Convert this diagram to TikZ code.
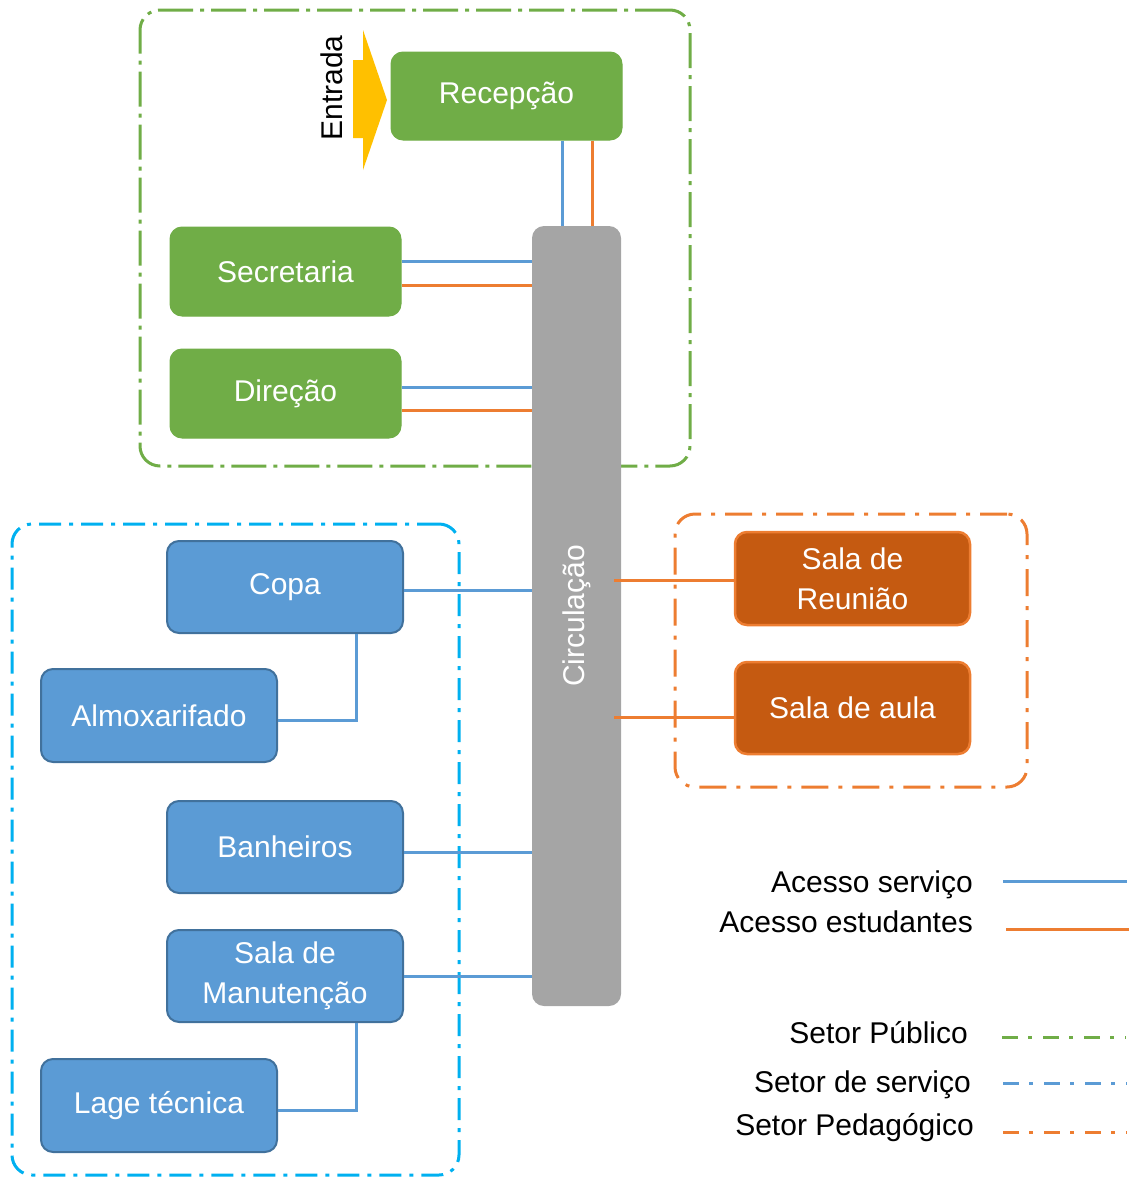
\documentclass[tikz,border=0pt]{standalone}
\usepackage{fontspec}
\setmainfont{Liberation Sans}
\usepackage{graphicx}

\definecolor{cGreen}{HTML}{70AD47}
\definecolor{cCyan}{HTML}{00B0F0}
\definecolor{cBlue}{HTML}{5B9BD5}
\definecolor{cBlueDark}{HTML}{41719C}
\definecolor{cOrange}{HTML}{ED7D31}
\definecolor{cOrangeDark}{HTML}{C55A11}
\definecolor{cGray}{HTML}{A5A5A5}
\definecolor{cYellow}{HTML}{FFC000}

\begin{document}
\begin{tikzpicture}[x=1pt,y=-1pt,
  txt/.style={font=\fontsize{30}{40}\selectfont},
  room/.style={rectangle, rounded corners=12pt, inner sep=0pt, text=white,
    align=center, txt},
  greenroom/.style={room, fill=cGreen, draw=cGreen, line width=1pt,
    minimum width=231pt, minimum height=89pt},
  blueroom/.style={room, fill=cBlue, draw=cBlueDark, line width=2pt,
    minimum width=236pt, minimum height=92pt},
  orangeroom/.style={room, fill=cOrangeDark, draw=cOrange, line width=2.5pt,
    minimum width=235pt, minimum height=92pt},
  sector/.style={rectangle, rounded corners=20pt, line width=3pt, inner sep=0pt},
  pubdash/.style={dash pattern=on 35pt off 7pt on 4pt off 7pt},
  srvdash/.style={dash pattern=on 22pt off 8pt on 4pt off 8pt},
  peddash/.style={dash pattern=on 27pt off 10pt on 4pt off 10pt},
  keydash/.style={dash pattern=on 16pt off 10pt on 4pt off 11pt},
  acs/.style={draw=cBlue, line width=3pt},
  ace/.style={draw=cOrange, line width=3pt},
  keytext/.style={txt, anchor=base east, inner sep=0pt}
]
\useasboundingbox (0,0) rectangle (1140,1178);

% sector outlines
\node[sector, draw=cGreen, pubdash, minimum width=550pt, minimum height=456pt] (publico) at (415,238) {};
\node[sector, draw=cCyan, srvdash, minimum width=447pt, minimum height=651pt] (servico) at (235.5,849.5) {};
\node[sector, draw=cOrange, peddash, minimum width=352pt, minimum height=273pt] (pedag) at (851,650.5) {};

% entrance arrow
\fill[cYellow] (353,60) -- (363,60) -- (363,30) -- (387,100) -- (363,170) -- (363,138) -- (353,138) -- cycle;
\node[txt, rotate=90, inner sep=0pt] (entrada) at (332,88) {Entrada};

% circulation spine
\node[rectangle, rounded corners=12pt, fill=cGray, minimum width=89pt, minimum height=780pt,
  inner sep=0pt, text=white, txt] (circ) at (576.5,616) {\rotatebox{90}{Circulação}};

% public sector rooms
\node[greenroom, minimum height=88pt] (rec) at (506.5,96) {Recepção};
\node[greenroom] (sec) at (285.5,271.5) {Secretaria};
\node[greenroom] (dir) at (285.5,393.5) {Direção};

% service sector rooms
\node[blueroom] (copa) at (285,587) {Copa};
\node[blueroom, minimum height=93pt] (alm) at (159,715.5) {Almoxarifado};
\node[blueroom] (ban) at (285,847) {Banheiros};
\node[blueroom] (man) at (285,976) {Sala de\\Manutenção};
\node[blueroom, minimum height=93pt] (lage) at (159,1105.5) {Lage técnica};

% pedagogical sector rooms
\node[orangeroom, minimum height=93pt] (reu) at (852.5,578.5) {Sala de\\Reunião};
\node[orangeroom] (aula) at (852.5,708) {Sala de aula};

% access links
\draw[acs] (rec.south -| 562,0) -- (circ.north -| 562,0);
\draw[ace] (rec.south -| 592,0) -- (circ.north -| 592,0);
\draw[acs] (sec.east |- 0,261) -- (circ.west |- 0,261);
\draw[ace] (sec.east |- 0,285) -- (circ.west |- 0,285);
\draw[acs] (dir.east |- 0,387) -- (circ.west |- 0,387);
\draw[ace] (dir.east |- 0,410) -- (circ.west |- 0,410);

\draw[acs] (copa.east |- 0,590) -- (circ.west |- 0,590);
\draw[acs] (copa.south -| 356,0) |- ([yshift=-5pt]alm.east);
\draw[acs] (ban.east |- 0,852) -- (circ.west |- 0,852);
\draw[acs] (man.east) -- (circ.west |- man.east);
\draw[acs] (man.south -| 356,0) |- ([yshift=-5pt]lage.east);

\draw[ace] (614,580) coordinate (reuA) -- (reu.west |- reuA);
\draw[ace] (614,717) coordinate (aulaA) -- (aula.west |- aulaA);

% key
\node[keytext] (kAcs) at (973,892) {Acesso serviço};
\node[keytext] (kAce) at (973,932) {Acesso estudantes};
\node[keytext] (kPub) at (968,1043) {Setor Público};
\node[keytext] (kSrv) at (971,1092) {Setor de serviço};
\node[keytext] (kPed) at (974,1135) {Setor Pedagógico};

\coordinate (k1a) at (1003,881);  \coordinate (k1b) at (1127,881);
\coordinate (k2a) at (1006,929);  \coordinate (k2b) at (1129,929);
\coordinate (k3a) at (1002,1037); \coordinate (k3b) at (1126,1037);
\coordinate (k4a) at (1003,1083); \coordinate (k4b) at (1127,1083);
\coordinate (k5a) at (1003,1132); \coordinate (k5b) at (1127,1132);
\draw[acs] (k1a) -- (k1b);
\draw[ace] (k2a) -- (k2b);
\draw[draw=cGreen, line width=3pt, keydash] (k3a) -- (k3b);
\draw[draw=cBlue, line width=3pt, keydash] (k4a) -- (k4b);
\draw[draw=cOrange, line width=3pt, keydash] (k5a) -- (k5b);
\end{tikzpicture}
\end{document}
